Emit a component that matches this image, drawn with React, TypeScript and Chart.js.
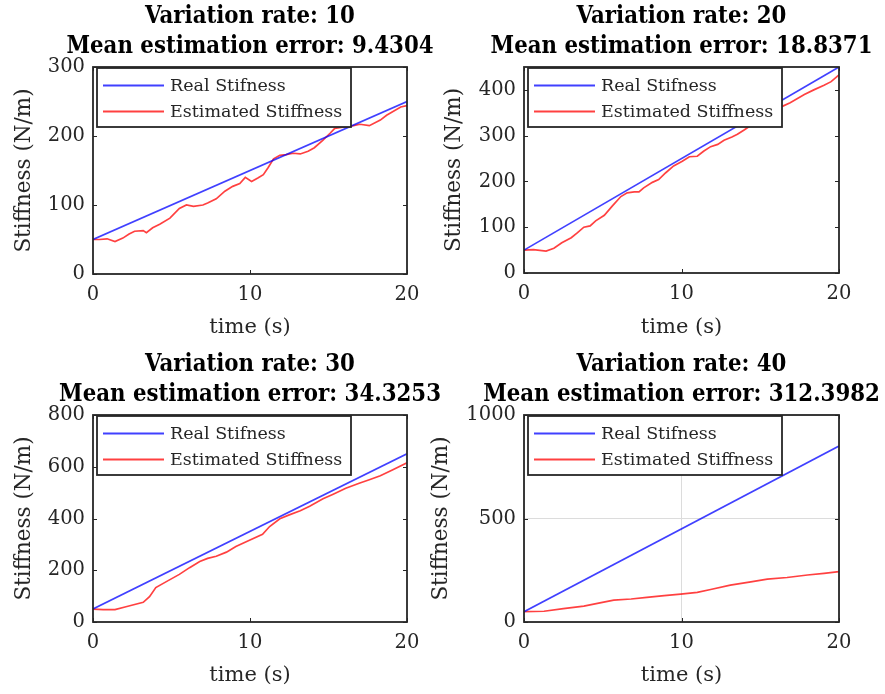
import React, { useEffect, useRef } from "react";
import { Chart, registerables } from "chart.js";

Chart.register(...registerables);

// ---------------- data ----------------
const xTicks = [0, 10, 20];
const realTime = [0, 20];
const legendLabels = ["Real Stifness", "Estimated Stiffness"];
const xTitle = "time (s)";
const yTitle = "Stiffness (N/m)";

// Variation rate 10
const title10 = ["Variation rate: 10", "Mean estimation error: 9.4304"];
const yTicks10 = [0, 100, 200, 300];
const real10 = [50, 250];
const estTime10 = [0, 0.4, 0.9, 1.4, 1.9, 2.3, 2.65, 3.2, 3.4, 3.8, 4.25, 4.9, 5.5, 5.95, 6.4, 7.0, 7.3, 7.85, 8.4, 8.9, 9.35, 9.7, 10.1, 10.5, 10.85, 11.15, 11.5, 11.9, 12.3, 12.75, 13.2, 13.7, 14.1, 14.65, 15.1, 15.4, 16.0, 16.6, 17.0, 17.6, 18.3, 18.7, 19.6, 20];
const est10 = [50, 50, 51, 47, 52, 58, 62, 63, 60, 67, 72, 81, 95, 100, 98, 100, 103, 109, 120, 127, 131, 140, 134, 139, 144, 154, 167, 172, 173, 175, 174, 178, 183, 194, 204, 211, 213, 215, 217, 215, 223, 230, 242, 244];

// Variation rate 20
const title20 = ["Variation rate: 20", "Mean estimation error: 18.8371"];
const yTicks20 = [0, 100, 200, 300, 400];
const real20 = [50, 450];
const estTime20 = [0, 0.6, 1.4, 1.9, 2.4, 3.0, 3.4, 3.8, 4.2, 4.55, 5.1, 5.6, 6.15, 6.55, 7.0, 7.3, 7.6, 8.15, 8.55, 9.0, 9.5, 10.05, 10.5, 11.0, 11.4, 11.85, 12.3, 12.7, 13.2, 13.55, 14.0, 14.5, 15.2, 16.0, 16.4, 16.9, 17.8, 18.4, 19.05, 19.5, 20];
const est20 = [50, 51, 48, 54, 66, 77, 88, 100, 103, 114, 126, 146, 167, 175, 177, 177, 186, 198, 204, 219, 234, 244, 254, 255, 266, 276, 281, 290, 297, 303, 313, 325, 340, 356, 364, 372, 390, 400, 410, 418, 433];

// Variation rate 30
const title30 = ["Variation rate: 30", "Mean estimation error: 34.3253"];
const yTicks30 = [0, 200, 400, 600, 800];
const real30 = [50, 650];
const estTime30 = [0, 0.65, 1.4, 2.1, 3.2, 3.6, 4.0, 4.7, 5.5, 6.15, 6.8, 7.3, 7.85, 8.5, 9.1, 10.0, 10.8, 11.25, 11.9, 12.5, 13.2, 13.8, 14.65, 15.3, 16.1, 17.0, 17.6, 18.3, 19.1, 20];
const est30 = [50, 48, 48, 59, 76, 98, 133, 157, 184, 210, 234, 246, 254, 270, 292, 317, 339, 369, 399, 414, 430, 447, 476, 494, 517, 537, 550, 565, 588, 615];

// Variation rate 40
const title40 = ["Variation rate: 40", "Mean estimation error: 312.3982"];
const yTicks40 = [0, 500, 1000];
const real40 = [50, 850];
const estTime40 = [0, 1.27, 2.5, 3.8, 4.9, 5.7, 6.8, 7.8, 8.9, 9.95, 11.0, 11.85, 13.1, 14.4, 15.45, 16.7, 18.0, 19.05, 20];
const est40 = [50, 52, 65, 77, 94, 106, 111, 119, 127, 135, 143, 157, 178, 194, 207, 215, 227, 235, 243];

// ---------------- styling / layout ----------------
const AXIS = "#262626";
const GRID = "#dcdcdc";
const BLUE = "rgba(0,0,255,0.75)";
const RED = "rgba(255,0,0,0.75)";
const FONT = "'DejaVu Serif', serif";
const TITLE_FONT = "'DejaVu Serif Condensed', 'DejaVu Serif', serif";

type Panel = {
  left: number; top: number; w: number; h: number;
  area: { l: number; r: number; t: number; b: number };
  yMax: number; yTicks: number[];
  real: number[]; estT: number[]; est: number[];
  title: string[];
  yTitlePad: number; xTitlePad: number; grid: boolean;
};

const panels: Panel[] = [
  { left: 0, top: 0, w: 442, h: 347, area: { l: 93, r: 407, t: 67, b: 274 }, yMax: 300, yTicks: yTicks10, real: real10, estT: estTime10, est: est10, title: title10, yTitlePad: 12, xTitlePad: 7, grid: false },
  { left: 412, top: 0, w: 473, h: 347, area: { l: 112, r: 427, t: 67, b: 273 }, yMax: 450, yTicks: yTicks20, real: real20, estT: estTime20, est: est20, title: title20, yTitlePad: 30, xTitlePad: 7, grid: false },
  { left: 0, top: 347, w: 442, h: 347, area: { l: 93, r: 407, t: 68, b: 275 }, yMax: 800, yTicks: yTicks30, real: real30, estT: estTime30, est: est30, title: title30, yTitlePad: 12, xTitlePad: 6, grid: false },
  { left: 412, top: 347, w: 473, h: 347, area: { l: 112, r: 427, t: 68, b: 275 }, yMax: 1000, yTicks: yTicks40, real: real40, estT: estTime40, est: est40, title: title40, yTitlePad: 17, xTitlePad: 6, grid: true },
];

function makeDecor(p: Panel) {
  return {
    id: "decor",
    afterDraw(chart: any) {
      const ctx = chart.ctx as CanvasRenderingContext2D;
      const a = chart.chartArea;
      const xs = chart.scales.x;
      const ys = chart.scales.y;
      ctx.save();
      // inward tick marks
      ctx.strokeStyle = AXIS;
      ctx.lineWidth = 1;
      ctx.beginPath();
      for (const v of xTicks) {
        const px = Math.round(xs.getPixelForValue(v)) + 0.5;
        ctx.moveTo(px, a.bottom); ctx.lineTo(px, a.bottom - 4);
        ctx.moveTo(px, a.top); ctx.lineTo(px, a.top + 4);
      }
      for (const v of p.yTicks) {
        const py = Math.round(ys.getPixelForValue(v)) + 0.5;
        ctx.moveTo(a.left, py); ctx.lineTo(a.left + 4, py);
        ctx.moveTo(a.right, py); ctx.lineTo(a.right - 4, py);
      }
      ctx.stroke();
      // axes box
      ctx.lineWidth = 1.8;
      ctx.strokeRect(a.left, a.top, a.right - a.left, a.bottom - a.top);
      // legend
      const lx = a.left + 4, ly = a.top + 1, lw = 254, lh = 59;
      ctx.fillStyle = "#fff";
      ctx.fillRect(lx, ly, lw, lh);
      ctx.strokeStyle = AXIS;
      ctx.lineWidth = 1.8;
      ctx.strokeRect(lx, ly, lw, lh);
      chart.data.datasets.forEach((ds: any, i: number) => {
        const y = ly + 17.5 + i * 26;
        ctx.strokeStyle = ds.borderColor;
        ctx.lineWidth = 1.8;
        ctx.beginPath();
        ctx.moveTo(lx + 6, y); ctx.lineTo(lx + 67, y);
        ctx.stroke();
        ctx.fillStyle = AXIS;
        ctx.font = `17.5px ${FONT}`;
        ctx.textBaseline = "middle";
        ctx.textAlign = "left";
        ctx.fillText(ds.label, lx + 73, y + 1);
      });
      // title
      ctx.fillStyle = "#000";
      ctx.font = `bold 23.7px ${TITLE_FONT}`;
      ctx.textAlign = "center";
      ctx.textBaseline = "alphabetic";
      const cx = (a.left + a.right) / 2;
      ctx.fillText(p.title[0], cx, a.top - 44);
      ctx.fillText(p.title[1], cx, a.top - 14);
      ctx.restore();
    },
  };
}

function PanelChart({ p }: { p: Panel }) {
  const ref = useRef<HTMLCanvasElement | null>(null);
  useEffect(() => {
    if (!ref.current) return;
    const chart = new Chart(ref.current, {
      type: "line",
      data: {
        datasets: [
          {
            label: legendLabels[0],
            data: realTime.map((t, i) => ({ x: t, y: p.real[i] })),
            borderColor: BLUE, borderWidth: 1.7, pointRadius: 0, tension: 0, fill: false,
          },
          {
            label: legendLabels[1],
            data: p.estT.map((t, i) => ({ x: t, y: p.est[i] })),
            borderColor: RED, borderWidth: 1.7, pointRadius: 0, tension: 0, fill: false,
          },
        ],
      },
      options: {
        animation: false,
        responsive: false,
        devicePixelRatio: 1,
        layout: { padding: { left: 0, top: p.area.t, right: p.w - p.area.r, bottom: 0 } },
        plugins: { legend: { display: false }, title: { display: false }, tooltip: { enabled: false } },
        scales: {
          x: {
            type: "linear", min: 0, max: 20,
            afterBuildTicks: (s: any) => { s.ticks = xTicks.map((v) => ({ value: v })); },
            afterFit: (s: any) => { s.height = p.h - p.area.b; },
            grid: { display: p.grid, drawTicks: false, tickLength: 0, color: GRID, lineWidth: 1 },
            border: { display: false },
            ticks: { padding: 9, color: AXIS, font: { family: FONT, size: 19.5 }, maxRotation: 0, callback: (v: any) => String(v) },
            title: { display: true, text: xTitle, color: AXIS, font: { family: FONT, size: 21 }, padding: { top: 0, bottom: p.xTitlePad } },
          },
          y: {
            type: "linear", min: 0, max: p.yMax,
            afterBuildTicks: (s: any) => { s.ticks = p.yTicks.map((v) => ({ value: v })); },
            afterFit: (s: any) => { s.width = p.area.l; },
            grid: { display: p.grid, drawTicks: false, tickLength: 0, color: GRID, lineWidth: 1 },
            border: { display: false },
            ticks: { padding: 8, color: AXIS, font: { family: FONT, size: 19.5 }, callback: (v: any) => String(v) },
            title: { display: true, text: yTitle, color: AXIS, font: { family: FONT, size: 21.5 }, padding: { top: p.yTitlePad, bottom: 0 } },
          },
        },
      } as any,
      plugins: [makeDecor(p)],
    });
    return () => chart.destroy();
  }, [p]);
  return (
    <canvas
      ref={ref}
      width={p.w}
      height={p.h}
      style={{ position: "absolute", left: p.left, top: p.top, width: p.w, height: p.h }}
    />
  );
}

export default function App() {
  return (
    <div style={{ position: "absolute", left: 0, top: 0, width: 885, height: 694, background: "#fff", overflow: "hidden" }}>
      {panels.map((p, i) => (
        <PanelChart key={i} p={p} />
      ))}
    </div>
  );
}
